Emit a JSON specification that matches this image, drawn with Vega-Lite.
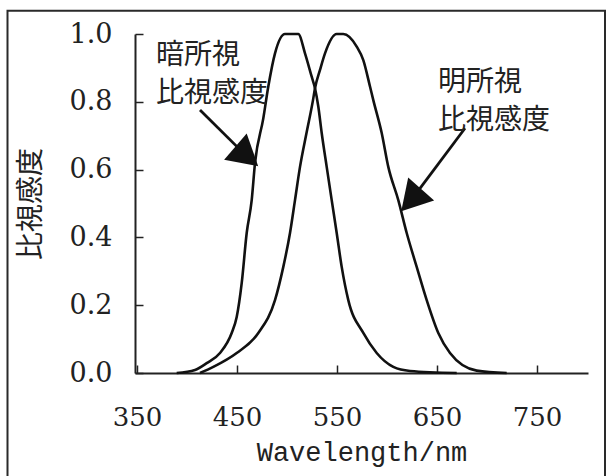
{
  "$schema": "https://vega.github.io/schema/vega-lite/v6.json",
  "width": 453,
  "height": 339,
  "autosize": {"type": "none"},
  "padding": {"left": 135, "top": 34, "right": 25, "bottom": 103},
  "background": "white",
  "config": {"view": {"stroke": null}},
  "datasets": {
    "curves": [
      {"curve": "scotopic", "wl": 389.7, "v": 0},
      {"curve": "scotopic", "wl": 408, "v": 0.009},
      {"curve": "scotopic", "wl": 419.7, "v": 0.029},
      {"curve": "scotopic", "wl": 433, "v": 0.059},
      {"curve": "scotopic", "wl": 444.7, "v": 0.118},
      {"curve": "scotopic", "wl": 449.7, "v": 0.165},
      {"curve": "scotopic", "wl": 454.7, "v": 0.265},
      {"curve": "scotopic", "wl": 459.7, "v": 0.413},
      {"curve": "scotopic", "wl": 464.7, "v": 0.51},
      {"curve": "scotopic", "wl": 468, "v": 0.619},
      {"curve": "scotopic", "wl": 476.3, "v": 0.751},
      {"curve": "scotopic", "wl": 481.3, "v": 0.845},
      {"curve": "scotopic", "wl": 488, "v": 0.943},
      {"curve": "scotopic", "wl": 498, "v": 1.0},
      {"curve": "scotopic", "wl": 511.3, "v": 1.0},
      {"curve": "scotopic", "wl": 518, "v": 0.943},
      {"curve": "scotopic", "wl": 524.7, "v": 0.874},
      {"curve": "scotopic", "wl": 528, "v": 0.84},
      {"curve": "scotopic", "wl": 531.3, "v": 0.786},
      {"curve": "scotopic", "wl": 534.7, "v": 0.708},
      {"curve": "scotopic", "wl": 539.7, "v": 0.608},
      {"curve": "scotopic", "wl": 544.7, "v": 0.51},
      {"curve": "scotopic", "wl": 549.7, "v": 0.413},
      {"curve": "scotopic", "wl": 554.7, "v": 0.313},
      {"curve": "scotopic", "wl": 561.3, "v": 0.215},
      {"curve": "scotopic", "wl": 576.3, "v": 0.118},
      {"curve": "scotopic", "wl": 589.7, "v": 0.059},
      {"curve": "scotopic", "wl": 606.3, "v": 0.018},
      {"curve": "scotopic", "wl": 623, "v": 0.006},
      {"curve": "scotopic", "wl": 669.7, "v": 0},
      {"curve": "photopic", "wl": 413, "v": 0},
      {"curve": "photopic", "wl": 426.3, "v": 0.018},
      {"curve": "photopic", "wl": 449.7, "v": 0.059},
      {"curve": "photopic", "wl": 471.3, "v": 0.118},
      {"curve": "photopic", "wl": 488, "v": 0.215},
      {"curve": "photopic", "wl": 496.3, "v": 0.313},
      {"curve": "photopic", "wl": 503, "v": 0.413},
      {"curve": "photopic", "wl": 508, "v": 0.51},
      {"curve": "photopic", "wl": 513, "v": 0.608},
      {"curve": "photopic", "wl": 519.5, "v": 0.708},
      {"curve": "photopic", "wl": 526, "v": 0.805},
      {"curve": "photopic", "wl": 528, "v": 0.84},
      {"curve": "photopic", "wl": 533, "v": 0.894},
      {"curve": "photopic", "wl": 538, "v": 0.943},
      {"curve": "photopic", "wl": 549.7, "v": 1.0},
      {"curve": "photopic", "wl": 556.3, "v": 1.0},
      {"curve": "photopic", "wl": 569.7, "v": 0.963},
      {"curve": "photopic", "wl": 576.3, "v": 0.923},
      {"curve": "photopic", "wl": 583, "v": 0.845},
      {"curve": "photopic", "wl": 586.3, "v": 0.805},
      {"curve": "photopic", "wl": 594.7, "v": 0.708},
      {"curve": "photopic", "wl": 601.3, "v": 0.608},
      {"curve": "photopic", "wl": 611.3, "v": 0.51},
      {"curve": "photopic", "wl": 619.7, "v": 0.413},
      {"curve": "photopic", "wl": 629.7, "v": 0.313},
      {"curve": "photopic", "wl": 639.7, "v": 0.215},
      {"curve": "photopic", "wl": 651.3, "v": 0.118},
      {"curve": "photopic", "wl": 663, "v": 0.059},
      {"curve": "photopic", "wl": 689.7, "v": 0.007},
      {"curve": "photopic", "wl": 719.7, "v": 0}
    ],
    "arrows": [
      {"curve": "scotopic", "wl": 413, "v": 0.776, "wl2": 459.8, "v2": 0.639, "angle": 130.6},
      {"curve": "photopic", "wl": 678, "v": 0.722, "wl2": 624.2, "v2": 0.51, "angle": 221.6}
    ],
    "labels": [
      {"wl": 369, "v": 0.934, "text": "暗所視"},
      {"wl": 369, "v": 0.823, "text": "比視感度"},
      {"wl": 651, "v": 0.855, "text": "明所視"},
      {"wl": 651, "v": 0.744, "text": "比視感度"}
    ],
    "frame": [
      {"left": 220.5, "right": 818, "top": 1.0687, "bottom": -0.345}
    ]
  },
  "encoding": {
    "x": {
      "field": "wl", "type": "quantitative",
      "scale": {"domain": [348, 801], "nice": false, "zero": false},
      "axis": {
        "title": "Wavelength/nm", "values": [350, 450, 550, 650, 750], "format": "d",
        "grid": false, "tickSize": -8, "tickWidth": 1.5, "tickColor": "#222",
        "domainColor": "#222", "domainWidth": 2,
        "labelFont": "DejaVu Serif", "labelFontSize": 26, "labelColor": "#222", "labelPadding": 39, "labelFlush": false,
        "titleFont": "Liberation Mono", "titleFontSize": 27, "titleFontWeight": "normal", "titleColor": "#222", "titlePadding": 9
      }
    },
    "y": {
      "field": "v", "type": "quantitative",
      "scale": {"domain": [0, 1], "nice": false, "zero": false},
      "axis": {
        "title": "比視感度", "values": [0, 0.2, 0.4, 0.6, 0.8, 1.0], "format": ".1f",
        "grid": false, "tickSize": -8, "tickWidth": 1.5, "tickColor": "#222",
        "domainColor": "#222", "domainWidth": 2,
        "labelFont": "DejaVu Serif", "labelFontSize": 27, "labelColor": "#222", "labelPadding": 31,
        "titleFont": "Noto Sans CJK JP", "titleFontSize": 28, "titleFontWeight": "normal", "titleColor": "#222", "titlePadding": 24
      }
    }
  },
  "layer": [
    {
      "data": {"name": "curves"},
      "mark": {"type": "line", "color": "#111", "strokeWidth": 2.6, "interpolate": "monotone", "strokeJoin": "round"},
      "encoding": {"detail": {"field": "curve"}}
    },
    {
      "data": {"name": "arrows"},
      "mark": {"type": "rule", "color": "#111", "strokeWidth": 2.8},
      "encoding": {
        "x2": {"field": "wl2"},
        "y2": {"field": "v2"}
      }
    },
    {
      "data": {"name": "arrows"},
      "mark": {"type": "point", "shape": "triangle-up", "filled": true, "size": 1200, "color": "#111", "opacity": 1},
      "encoding": {
        "x": {"field": "wl2", "type": "quantitative"},
        "y": {"field": "v2", "type": "quantitative"},
        "angle": {"field": "angle", "type": "quantitative", "scale": null}
      }
    },
    {
      "data": {"name": "labels"},
      "mark": {"type": "text", "font": "Noto Sans CJK JP", "fontSize": 28, "align": "left", "baseline": "middle", "color": "#222"},
      "encoding": {"text": {"field": "text"}}
    },
    {
      "data": {"name": "frame"},
      "mark": {"type": "rect", "fill": "transparent", "stroke": "#2a2a2a", "strokeWidth": 2, "clip": false},
      "encoding": {
        "x": {"field": "left", "type": "quantitative"},
        "x2": {"field": "right"},
        "y": {"field": "top", "type": "quantitative"},
        "y2": {"field": "bottom"}
      }
    }
  ]
}
